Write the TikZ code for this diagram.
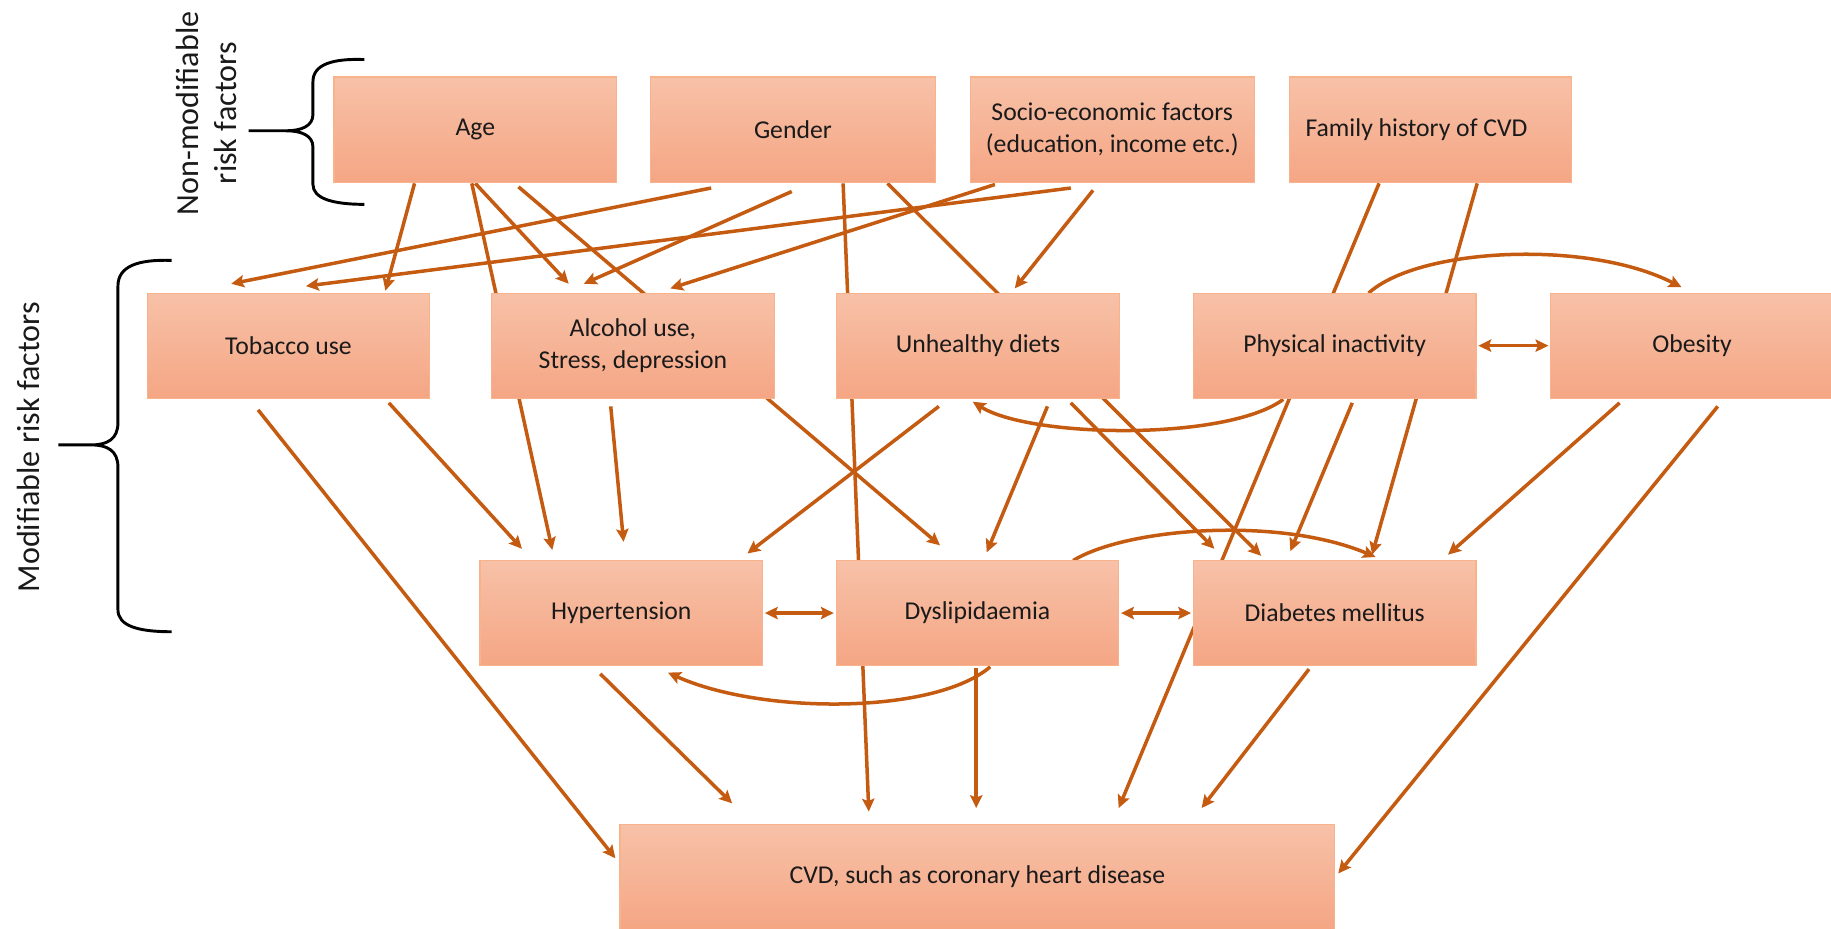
\documentclass[tikz,border=0pt]{standalone}
\usepackage{fontspec}
\setmainfont{Carlito}
\usetikzlibrary{arrows.meta,calc}
\pgfdeclarelayer{bg}
\pgfsetlayers{bg,main}
\definecolor{boxtop}{HTML}{F7C1A8}
\definecolor{boxbot}{HTML}{F5A684}
\definecolor{boxline}{HTML}{F9B38C}
\definecolor{link}{HTML}{C55A11}
\definecolor{ink}{HTML}{1A1A1A}
\begin{document}
\begin{tikzpicture}[x=1pt,y=-1pt,
  box/.style={draw=boxline, line width=1pt, top color=boxtop, bottom color=boxbot,
    minimum width=242pt, minimum height=90pt, inner sep=0pt, outer sep=0pt,
    align=center, text=ink, font=\fontsize{22}{27}\selectfont},
  tip/.tip={Stealth[length=11pt,width=10.5pt,inset=2pt]},
  conn/.style={draw=link, line width=3pt, -tip},
  both/.style={draw=link, line width=3pt, tip-tip, shorten <=2pt, shorten >=2pt},
  bracket/.style={draw=black, line width=2.5pt},
  side/.style={rotate=90, align=center, text=ink, font=\fontsize{27.5}{33}\selectfont}]
\useasboundingbox (0,0) rectangle (1568,795);

% risk factor boxes
\node[box] (age) at (407,111) {Age};
\node[box, minimum width=244pt] (gender) at (679,111) {Gender};
\node[box, minimum width=243pt] (socio) at (952.5,111) {Socio-economic factors\\(education, income etc.)};
\node[box] (family) at (1225,111) {\makebox[214pt][l]{Family history of CVD}};

\node[box] (tobacco) at (247,296) {Tobacco use};
\node[box] (alcohol) at (542,296) {Alcohol use,\\Stress, depression};
\node[box, minimum width=243pt] (diets) at (837.5,296) {Unhealthy diets};
\node[box] (phys) at (1143,296) {Physical inactivity};
\node[box] (obesity) at (1449,296) {Obesity};

\node[box] (hyper) at (532,525) {Hypertension};
\node[box] (dysl) at (837,525) {Dyslipidaemia};
\node[box] (diab) at (1143,525) {Diabetes mellitus};

\node[box, minimum width=612pt] (cvd) at (837,751) {CVD, such as coronary heart disease};

% group labels and braces
\node[side] (nonmod) at (177,97) {Non-modifiable\\risk factors};
\node[side] (mod) at (24,383) {Modifiable risk factors};
\draw[bracket] (312,51) .. controls (285,50) and (268,55) .. (268,70) -- (268,98)
  .. controls (268,108) and (258,112) .. (245,112) -- (213,112) -- (245,112)
  .. controls (258,112) and (268,116) .. (268,126) -- (268,158)
  .. controls (268,170) and (285,175) .. (312,175);
\draw[bracket] (147,223) .. controls (118,222) and (101,228) .. (101,245) -- (101,362)
  .. controls (101,376) and (92,381) .. (78,381) -- (50,381) -- (78,381)
  .. controls (92,381) and (101,386) .. (101,400) -- (101,522)
  .. controls (101,536) and (118,541) .. (147,541);

\begin{pgfonlayer}{bg}
% from age
\draw[conn] ($(age.south west)+(69,1)$) -- ($(tobacco.north west)+(204,-2)$);
\draw[conn] ($(age.south west)+(118,1)$) -- ($(hyper.north west)+(62,-9)$);
\draw[conn] ($(age.south west)+(121,1)$) -- ($(alcohol.north west)+(66,-8)$);
\draw[conn] ($(age.south west)+(158,4)$) -- ($(dysl.north west)+(89,-13)$);
% from gender
\draw[conn] ($(gender.south west)+(52,5)$) -- ($(tobacco.north west)+(72,-8)$);
\draw[conn] ($(gender.south west)+(121,8)$) -- ($(alcohol.north west)+(79,-8)$);
\draw[conn] ($(gender.south west)+(165,1)$) -- ($(cvd.north west)+(213,-11)$);
\draw[conn] ($(gender.south west)+(203,1)$) -- ($(diab.north west)+(58,-4)$);
% from socio-economic factors
\draw[conn] ($(socio.south west)+(21,2)$) -- ($(alcohol.north west)+(153,-4)$);
\draw[conn] ($(socio.south west)+(86,5)$) -- ($(tobacco.north west)+(136,-6)$);
\draw[conn] ($(socio.south west)+(105,7)$) -- ($(diets.north west)+(153,-4)$);
% from family history
\draw[conn] ($(family.south west)+(77,1)$) -- ($(cvd.north west)+(427,-14)$);
\draw[conn] ($(family.south west)+(161,1)$) -- ($(diab.north west)+(153,-5)$);
% from physical inactivity
\draw[conn] ($(phys.north west)+(150,0)$) .. controls +(43,-39) and +(-80,-41) .. ($(obesity.north west)+(112,-5)$);
\draw[both] (phys.east) -- (obesity.west);
\draw[conn] ($(phys.south west)+(77,1)$) .. controls +(-49,36) and +(49,31) .. ($(diets.south west)+(117,3)$);
\draw[conn] ($(phys.south west)+(136,4)$) -- ($(diab.north west)+(83,-8)$);
% from obesity
\draw[conn] ($(obesity.south west)+(59,4)$) -- ($(diab.north west)+(218,-5)$);
\draw[conn] ($(obesity.south west)+(143,7)$) -- ($(cvd.north east)+(3,42)$);
% from tobacco and alcohol
\draw[conn] ($(tobacco.south west)+(95,10)$) -- ($(cvd.north west)+(-4,29)$);
\draw[conn] ($(tobacco.south west)+(207,4)$) -- ($(hyper.north west)+(36,-10)$);
\draw[conn] ($(alcohol.south west)+(102,7)$) -- ($(hyper.north west)+(123,-16)$);
% from unhealthy diets
\draw[conn] ($(diets.south west)+(88,7)$) -- ($(hyper.north west)+(229,-6)$);
\draw[conn] ($(diets.south west)+(181,7)$) -- ($(dysl.north west)+(129,-7)$);
\draw[conn] ($(diets.south west)+(201,4)$) -- ($(diab.north west)+(18,-10)$);
% between the conditions
\draw[both] (hyper.east) -- (dysl.west);
\draw[both] (dysl.east) -- (diab.west);
\draw[conn] ($(dysl.south west)+(132,1)$) .. controls +(-48,41) and +(80,36) .. ($(hyper.south west)+(161,6)$);
\draw[conn] ($(dysl.north west)+(203,0)$) .. controls +(46,-28) and +(-83,-35) .. ($(diab.north west)+(156,-3)$);
% into CVD
\draw[conn] ($(hyper.south west)+(103,7)$) -- ($(cvd.north west)+(96,-18)$);
\draw[conn] ($(dysl.south west)+(120,2)$) -- ($(cvd.north west)+(305,-14)$);
\draw[conn] ($(diab.south west)+(99,3)$) -- ($(cvd.north west)+(498,-14)$);
\end{pgfonlayer}
\end{tikzpicture}
\end{document}
